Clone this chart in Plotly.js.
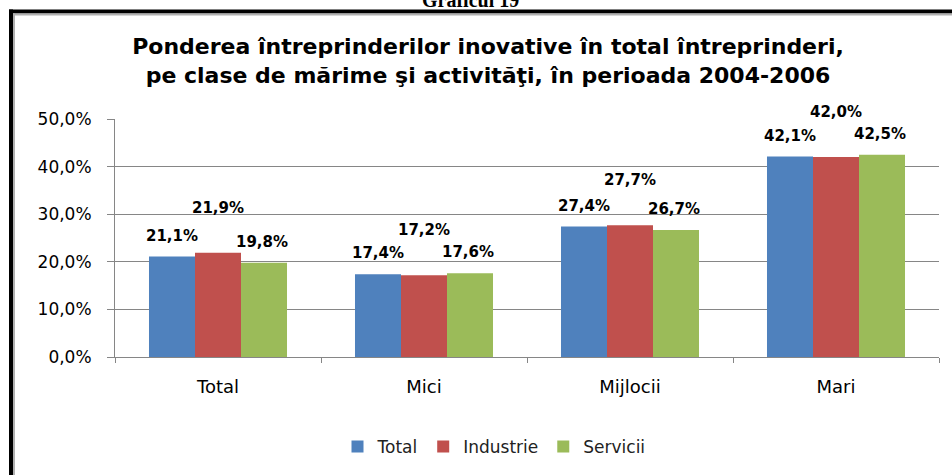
<!DOCTYPE html>
<html>
<head>
<meta charset="utf-8">
<script src="https://cdn.plot.ly/plotly-3.0.1.min.js"></script>
<style>
  html, body { margin: 0; padding: 0; background: #fff; }
  #chart { width: 952px; height: 475px; }
</style>
</head>
<body>
<div id="chart"></div>
<script>
const categories = ['Total', 'Mici', 'Mijlocii', 'Mari'];
const seriesNames = ['Total', 'Industrie', 'Servicii'];
const totalValues = [21.1, 17.4, 27.4, 42.1];
const industrieValues = [21.9, 17.2, 27.7, 42.0];
const serviciiValues = [19.8, 17.6, 26.7, 42.5];
const yTicks = [0, 10, 20, 30, 40, 50];

const colors = ['#4F81BD', '#C0504D', '#9BBB59'];
const allValues = [totalValues, industrieValues, serviciiValues];

// plot area in pixels: x 115..939, y 119..358
const L = 115, R = 13, T = 119, B = 117;
const plotW = 952 - L - R, plotH = 475 - T - B;
const px = X => (X - L) / plotW;
const py = Y => (475 - B - Y) / plotH;

function fmt(v) {
    return v.toFixed(1).replace('.', ',') + '%';
}

const traces = allValues.map((vals, i) => ({
    x: categories,
    y: vals,
    type: 'bar',
    name: seriesNames[i],
    marker: { color: colors[i] },
    hoverinfo: 'skip',
}));

// data labels: Industrie labels sit higher to avoid overlap
const xShifts = [-46, 0, 44];
const yShifts = [21, 45, 21];
const annotations = [];
allValues.forEach((vals, i) => {
    vals.forEach((v, j) => {
        annotations.push({
            x: categories[j],
            y: v,
            xref: 'x',
            yref: 'y',
            text: fmt(v),
            showarrow: false,
            xshift: xShifts[i],
            yshift: yShifts[i],
            yanchor: 'middle',
            font: { family: 'DejaVu Sans', size: 15, color: '#000', weight: 'bold' },
        });
    });
});

annotations.push({
    xref: 'paper',
    yref: 'paper',
    x: px(470),
    y: py(0),
    text: 'Graficul 19',
    showarrow: false,
    yanchor: 'middle',
    font: { family: 'Liberation Serif', size: 20, color: '#000', weight: 'bold' },
});

const shapes = [
    { type: 'line', xref: 'paper', yref: 'paper', x0: px(9), x1: px(960), y0: py(11), y1: py(11), line: { color: '#000', width: 4 } },
    { type: 'line', xref: 'paper', yref: 'paper', x0: px(11), x1: px(11), y0: py(9), y1: py(480), line: { color: '#000', width: 4 } },
    { type: 'line', xref: 'paper', yref: 'paper', x0: px(13), x1: px(960), y0: py(14), y1: py(14), line: { color: '#b0b0b0', width: 2 } },
    { type: 'line', xref: 'paper', yref: 'paper', x0: px(14), x1: px(14), y0: py(13), y1: py(480), line: { color: '#b0b0b0', width: 2 } },
];

const layout = {
    width: 952,
    height: 475,
    paper_bgcolor: '#fff',
    plot_bgcolor: '#fff',
    margin: { t: T, l: L, r: R, b: B, pad: 0 },
    separators: ',.',
    barmode: 'group',
    bargap: 0.33,
    bargroupgap: 0,
    title: {
        text: 'Ponderea întreprinderilor inovative în total întreprinderi,<br>pe clase de mărime şi activităţi, în perioada 2004-2006',
        font: { family: 'DejaVu Sans', size: 22, color: '#000', weight: 'bold' },
        xref: 'paper',
        x: px(488),
        xanchor: 'center',
        yref: 'container',
        y: 1 - 54 / 475,
        yanchor: 'top',
    },
    xaxis: {
        type: 'category',
        showline: true,
        linecolor: '#868686',
        linewidth: 1,
        ticks: 'outside',
        tickson: 'boundaries',
        ticklen: 5,
        tickcolor: '#868686',
        ticklabelstandoff: 13,
        tickfont: { family: 'DejaVu Sans', size: 18, color: '#000' },
        showgrid: false,
        fixedrange: true,
    },
    yaxis: {
        range: [0, 50],
        tickvals: yTicks,
        ticktext: yTicks.map(fmt),
        showline: true,
        linecolor: '#868686',
        linewidth: 1,
        ticks: 'outside',
        ticklen: 7,
        tickcolor: '#868686',
        ticklabelstandoff: 12,
        gridcolor: '#868686',
        gridwidth: 1,
        zeroline: false,
        tickfont: { family: 'DejaVu Sans', size: 17, color: '#000' },
        fixedrange: true,
    },
    legend: {
        orientation: 'h',
        xref: 'paper',
        x: px(494),
        xanchor: 'center',
        yref: 'paper',
        y: py(447),
        yanchor: 'middle',
        font: { family: 'DejaVu Sans', size: 17, color: '#222' },
        itemwidth: 30,
        tracegroupgap: 0,
    },
    showlegend: true,
    annotations: annotations,
    shapes: shapes,
};

Plotly.newPlot('chart', traces, layout, { displayModeBar: false, staticPlot: true });
</script>
</body>
</html>
